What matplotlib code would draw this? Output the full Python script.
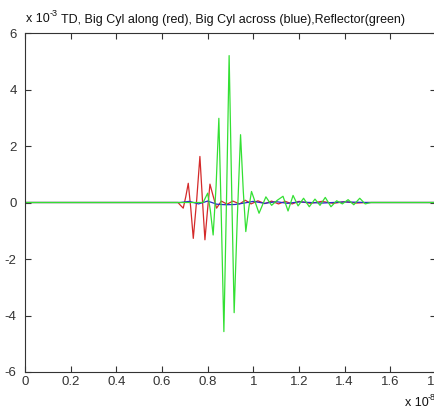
import numpy as np
import matplotlib
matplotlib.use('Agg')
import matplotlib.pyplot as plt

plt.rcParams['font.family'] = ['Liberation Sans', 'DejaVu Sans']
plt.rcParams['axes.unicode_minus'] = False

# time in units of 1e-8 s, amplitude in units of 1e-3
red_t = [0, 0.67, 0.681, 0.693, 0.704, 0.715, 0.726, 0.737, 0.752, 0.766, 0.777, 0.788, 0.799,
         0.81, 0.825, 0.839, 0.86, 0.885, 0.91, 0.94, 0.965, 0.99, 1.02, 1.05, 1.08, 1.11,
         1.14, 1.17, 1.2, 1.25, 1.3, 1.35, 1.4, 1.45, 1.5, 1.8]
red_v = [0, 0, -0.1, -0.2, 0.2, 0.68, -0.2, -1.27, 0.1, 1.63, 0.1, -1.32, -0.3,
         0.65, 0.2, -0.2, 0.05, -0.06, 0.05, -0.05, 0.08, -0.05, 0.06, -0.04, 0.05, -0.05,
         0.04, -0.05, 0.04, -0.03, 0.04, -0.03, 0.03, -0.02, 0, 0]

blue_t = [0, 0.68, 0.72, 0.76, 0.8, 0.84, 0.88, 0.92, 0.96, 1.0, 1.05, 1.1, 1.15, 1.2, 1.3, 1.4, 1.5, 1.8]
blue_v = [0, 0, 0.04, -0.05, 0.05, -0.06, -0.08, -0.07, -0.02, 0.04, -0.03, 0.03, -0.03, 0.02, -0.02, 0.02, 0, 0]

green_t = [0, 0.78, 0.80, 0.812, 0.824, 0.837, 0.849, 0.86, 0.871, 0.883, 0.894, 0.905, 0.916,
           0.93, 0.944, 0.956, 0.967, 0.98, 0.992, 1.025, 1.055,
           1.08, 1.105, 1.13, 1.152, 1.174, 1.196, 1.22, 1.245, 1.27, 1.292, 1.315, 1.34, 1.365,
           1.39, 1.415, 1.44, 1.466, 1.49, 1.515, 1.8]
green_v = [0, 0, 0.33, -0.3, -1.15, 0.6, 2.98, -0.6, -4.57, 0.3, 5.2, 0.5, -3.9,
           -0.5, 2.4, 0.4, -1.03, -0.2, 0.39, -0.38, 0.20,
           -0.10, 0.08, 0.22, -0.30, 0.25, -0.12, 0.15, -0.15, 0.12, -0.10, 0.18, -0.15, 0.06,
           -0.05, 0.10, -0.08, 0.15, -0.05, 0, 0]

xticks = [0, 0.2, 0.4, 0.6, 0.8, 1, 1.2, 1.4, 1.6, 1.8]
xticklabels = ['0', '0.2', '0.4', '0.6', '0.8', '1', '1.2', '1.4', '1.6', '1.8']
yticks = [-6, -4, -2, 0, 2, 4, 6]

W, H = 435, 412
fig = plt.figure(figsize=(W / 100, H / 100), dpi=100)
ax = fig.add_axes([25/W, 40/H, 411/W, 339/H])

ax.plot(red_t, red_v, color='#d42a2a', lw=0.9)
ax.plot(blue_t, blue_v, color='#2a2ac8', lw=0.9)
ax.plot(green_t, green_v, color='#33e033', lw=0.9)

ax.set_xlim(0, 1.8)
ax.set_ylim(-6, 6)
ax.set_xticks(xticks)
ax.set_xticklabels(xticklabels)
ax.set_yticks(yticks)
ax.tick_params(direction='in', length=4, width=0.8, labelsize=9.5, top=True, right=True,
               colors='#333333', pad=3)
ax.tick_params(axis='y', pad=6)
for s in ax.spines.values():
    s.set_color('#333333')
    s.set_linewidth(0.8)

ax.set_title('TD, Big Cyl along (red), Big Cyl across (blue),Reflector(green)',
             fontsize=9, pad=7, color='#111111', x=(233.5 - 25) / 411)

# axis multipliers, drawn as plain text plus a small raised exponent
fig.text(26/W, 1 - 22/H, 'x 10', fontsize=9, color='#111111', va='baseline')
fig.text(50/W, 1 - 16/H, '-3', fontsize=6.5, color='#111111', va='baseline')
fig.text(405/W, 1 - 406/H, 'x 10', fontsize=9, color='#111111', va='baseline')
fig.text(428/W, 1 - 400/H, '-8', fontsize=6.5, color='#111111', va='baseline')

fig.savefig('out.png', dpi=100)
